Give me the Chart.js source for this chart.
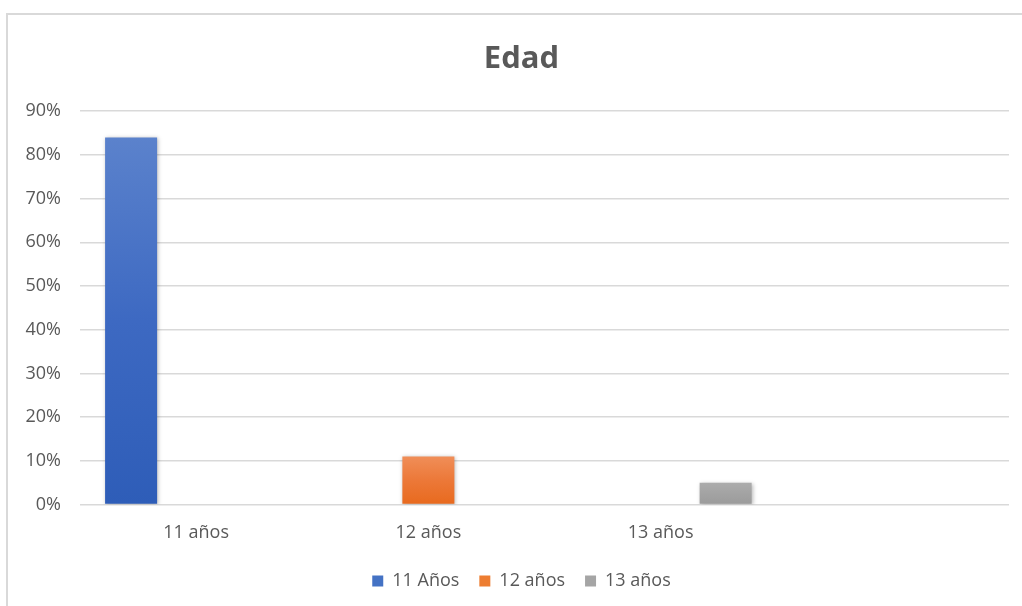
<!DOCTYPE html>
<html><head><meta charset="utf-8">
<script src="https://cdn.jsdelivr.net/npm/chart.js@4"></script>
<style>
html,body{margin:0;padding:0;background:#fff;overflow:hidden;width:1022px;height:606px}
#wrap{position:absolute;left:6px;top:13px;width:1016px;height:593px;border-top:2px solid #d9d9d9;border-left:2px solid #d9d9d9;box-sizing:border-box}
#wrap canvas{display:block}
</style></head><body>
<div id="wrap"><canvas id="c" width="1014" height="591"></canvas></div>
<script>
const categories = ['11 años', '12 años', '13 años', ''];
const seriesNames = ['11 Años', '12 años', '13 años'];
const values11 = [84, null, null, null];
const values12 = [null, 11, null, null];
const values13 = [null, null, 5, null];
const yMin = 0, yMax = 90, yStep = 10;

const solid = ['#4472C4', '#ED7D31', '#A5A5A5'];
const grads = [
  ['#5B82CC', '#3D69C2', '#2E5DB8'],
  ['#F08E58', '#EC7838', '#E86A1E'],
  ['#ACACAC', '#A3A3A3', '#9B9B9B']
];

function gradFill(i) {
  return function(ctx) {
    const chart = ctx.chart;
    const v = ctx.raw;
    if (!chart.chartArea || v == null || ctx.type !== 'data') return solid[i];
    const ys = chart.scales.y;
    const top = ys.getPixelForValue(v), bot = ys.getPixelForValue(0);
    if (!isFinite(top) || top === bot) return solid[i];
    const g = chart.ctx.createLinearGradient(0, top, 0, bot);
    g.addColorStop(0, grads[i][0]);
    g.addColorStop(0.5, grads[i][1]);
    g.addColorStop(1, grads[i][2]);
    return g;
  };
}

const shadow = {
  id: 'shadow',
  beforeDatasetsDraw(chart) {
    const c = chart.ctx; c.save();
    c.shadowColor = 'rgba(0,0,0,0.28)'; c.shadowBlur = 4; c.shadowOffsetX = 1; c.shadowOffsetY = 1;
  },
  afterDatasetsDraw(chart) { chart.ctx.restore(); }
};

const series = [values11, values12, values13];
new Chart(document.getElementById('c'), {
  type: 'bar',
  data: {
    labels: categories,
    datasets: series.map((d, i) => ({
      label: seriesNames[i],
      data: d,
      backgroundColor: gradFill(i),
      borderWidth: 0,
      categoryPercentage: 0.84,
      barPercentage: 0.8
    }))
  },
  options: {
    responsive: false,
    animation: false,
    layout: { padding: { left: 26, right: 13, top: 0, bottom: 6 } },
    plugins: {
      title: {
        display: true, text: 'Edad', color: '#595959',
        font: { family: 'Open Sans', size: 31, weight: 'bold' },
        padding: { top: 26, bottom: 33 }
      },
      legend: {
        position: 'bottom',
        labels: {
          color: '#595959', font: { family: 'Open Sans', size: 18 },
          boxWidth: 11, boxHeight: 11, padding: 20,
          generateLabels(chart) {
            return chart.data.datasets.map((ds, i) => ({
              text: ds.label, fillStyle: solid[i], strokeStyle: solid[i], lineWidth: 0,
              hidden: false, datasetIndex: i, fontColor: '#595959'
            }));
          }
        }
      },
      tooltip: { enabled: false }
    },
    scales: {
      x: {
        afterFit(scale) { scale.height = 47.5; },
        grid: { display: false, drawTicks: false },
        border: { display: false },
        ticks: { color: '#595959', font: { family: 'Open Sans', size: 18 }, padding: 18, maxRotation: 0 }
      },
      y: {
        min: yMin, max: yMax,
        afterFit(scale) { scale.width = 46; scale._computeLabelArea = function() { return undefined; }; },
        grid: { color: '#D9D9D9', lineWidth: 1.5, drawTicks: false },
        border: { display: false },
        ticks: { stepSize: yStep, color: '#595959', font: { family: 'Open Sans', size: 18 }, padding: 19,
          callback: v => v + '%' }
      }
    }
  },
  plugins: [shadow]
});
</script>
</body></html>
